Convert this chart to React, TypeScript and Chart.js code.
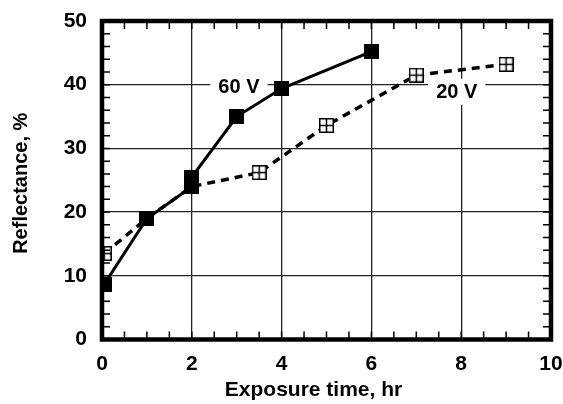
import React, { useEffect, useRef } from "react";
import { Chart, registerables } from "chart.js";

Chart.register(...registerables);

// ---- data ----
const series60Label = "60 V";
const series60X = [0.05, 1, 2, 2, 3, 4, 6];
const series60Y = [8.7, 19, 24, 25.5, 35, 39.4, 45.2];

const series20Label = "20 V";
const series20X = [0.05, 1, 2, 3.5, 5, 7, 9];
const series20Y = [13.5, 19, 24, 26.2, 33.6, 41.5, 43.2];

// label anchor positions (data coords)
const labelNames = ["60 V", "20 V"];
const labelX = [3.05, 7.9];
const labelY = [39.7, 38.9];

const xTitle = "Exposure time, hr";
const yTitle = "Reflectance, %";

const xTicks = [0, 2, 4, 6, 8, 10];
const yTicks = [0, 10, 20, 30, 40, 50];
const xMinorStep = 0.5;
const yMinorStep = 2;

const FONT = "'Liberation Sans', Arial, Helvetica, sans-serif";
const MS = 15;

function makeFilledMarker(): HTMLCanvasElement {
  const c = document.createElement("canvas");
  c.width = MS;
  c.height = MS;
  const g = c.getContext("2d")!;
  g.fillStyle = "#000";
  g.fillRect(0, 0, MS, MS);
  return c;
}

function makeHatchedMarker(): HTMLCanvasElement {
  const c = document.createElement("canvas");
  c.width = MS;
  c.height = MS;
  const g = c.getContext("2d")!;
  g.fillStyle = "#fff";
  g.fillRect(0, 0, MS, MS);
  g.strokeStyle = "#000";
  g.lineWidth = 1.5;
  g.strokeRect(0.75, 0.75, MS - 1.5, MS - 1.5);
  g.beginPath();
  g.moveTo(MS / 2, 0);
  g.lineTo(MS / 2, MS);
  g.moveTo(0, MS / 2);
  g.lineTo(MS, MS / 2);
  g.stroke();
  return c;
}

const framePlugin = {
  id: "frameAndTicks",
  beforeDatasetsDraw(chart: any) {
    const { ctx, scales } = chart;
    const xs = scales.x;
    const ys = scales.y;
    ctx.save();
    ctx.font = `bold 20px ${FONT}`;
    ctx.textAlign = "center";
    ctx.textBaseline = "middle";
    for (let i = 0; i < labelNames.length; i++) {
      const px = xs.getPixelForValue(labelX[i]);
      const py = ys.getPixelForValue(labelY[i]);
      const w = ctx.measureText(labelNames[i]).width + 16;
      ctx.fillStyle = "#fff";
      ctx.fillRect(px - w / 2, py - 13, w, 26);
      ctx.fillStyle = "#000";
      ctx.fillText(labelNames[i], px, py + 1);
    }
    ctx.restore();
  },
  afterDatasetsDraw(chart: any) {
    const { ctx, chartArea, scales } = chart;
    const xs = scales.x;
    const ys = scales.y;
    const { left, right, top, bottom } = chartArea;
    ctx.save();
    ctx.strokeStyle = "#000";
    ctx.lineWidth = 1.5;
    const tl = 8;
    ctx.beginPath();
    for (let v = xs.min; v <= xs.max + 1e-9; v += xMinorStep) {
      const p = xs.getPixelForValue(v);
      ctx.moveTo(p, top);
      ctx.lineTo(p, top + tl);
      ctx.moveTo(p, bottom);
      ctx.lineTo(p, bottom - tl);
    }
    for (let v = ys.min; v <= ys.max + 1e-9; v += yMinorStep) {
      const p = ys.getPixelForValue(v);
      ctx.moveTo(left, p);
      ctx.lineTo(left + tl, p);
      ctx.moveTo(right, p);
      ctx.lineTo(right - tl, p);
    }
    ctx.stroke();
    ctx.lineWidth = 4.5;
    ctx.strokeRect(left, top, right - left, bottom - top);

    // axis titles
    ctx.fillStyle = "#000";
    ctx.textAlign = "center";
    ctx.textBaseline = "middle";
    ctx.font = `bold 21px ${FONT}`;
    ctx.fillText(xTitle, (left + right) / 2 - 13, bottom + 51);
    ctx.font = `bold 20px ${FONT}`;
    ctx.translate(21, (top + bottom) / 2 + 3);
    ctx.rotate(-Math.PI / 2);
    ctx.fillText(yTitle, 0, 0);
    ctx.restore();
  },
};

export default function App() {
  const ref = useRef<HTMLCanvasElement | null>(null);
  useEffect(() => {
    document.body.style.margin = "0";
    const data60 = series60X.map((x, i) => ({ x, y: series60Y[i] }));
    const data20 = series20X.map((x, i) => ({ x, y: series20Y[i] }));
    const filled = makeFilledMarker();
    const hatched = makeHatchedMarker();
    const chart = new Chart(ref.current!, {
      type: "scatter",
      data: {
        datasets: [
          {
            label: series60Label,
            data: data60,
            showLine: true,
            borderColor: "#000",
            backgroundColor: "#000",
            borderWidth: 3,
            pointStyle: filled as any,
            pointRadius: 7,
            order: 1,
          },
          {
            label: series20Label,
            data: data20,
            showLine: true,
            borderColor: "#000",
            backgroundColor: "#fff",
            borderWidth: 3.5,
            borderDash: [8, 6],
            pointStyle: hatched as any,
            pointRadius: 7,
            order: 2,
          },
        ],
      },
      options: {
        animation: false,
        responsive: false,
        layout: { padding: { left: 0, top: 21, right: 12, bottom: 0 } },
        plugins: {
          legend: { display: false },
          tooltip: { enabled: false },
        },
        scales: {
          x: {
            type: "linear",
            min: 0,
            max: 10,
            afterFit: (s: any) => {
              s.height = 64.5;
              s.paddingLeft = 0;
              s.paddingRight = 0;
            },
            afterBuildTicks: (s: any) => {
              s.ticks = xTicks.map((v) => ({ value: v }));
            },
            border: { display: false },
            grid: {
              color: (c: any) =>
                c.tick && (c.tick.value === 0 || c.tick.value === 10) ? "rgba(0,0,0,0)" : "#222",
              lineWidth: 1.3,
              drawTicks: false,
            },
            ticks: {
              color: "#000",
              padding: 12,
              font: { family: FONT, size: 21, weight: "bold" },
            },
          },
          y: {
            type: "linear",
            min: 0,
            max: 50,
            afterFit: (s: any) => {
              s.width = 102;
              s.paddingTop = 0;
              s.paddingBottom = 0;
            },
            afterBuildTicks: (s: any) => {
              s.ticks = yTicks.map((v) => ({ value: v }));
            },
            border: { display: false },
            grid: {
              color: (c: any) =>
                c.tick && (c.tick.value === 0 || c.tick.value === 50) ? "rgba(0,0,0,0)" : "#222",
              lineWidth: 1.3,
              drawTicks: false,
            },
            ticks: {
              color: "#000",
              padding: 15,
              font: { family: FONT, size: 21, weight: "bold" },
            },
          },
        },
      },
      plugins: [framePlugin],
    });
    return () => chart.destroy();
  }, []);
  return (
    <div style={{ position: "fixed", left: 0, top: 0, width: 563, height: 404, background: "#fff" }}>
      <canvas ref={ref} width={563} height={404} style={{ display: "block" }} />
    </div>
  );
}
